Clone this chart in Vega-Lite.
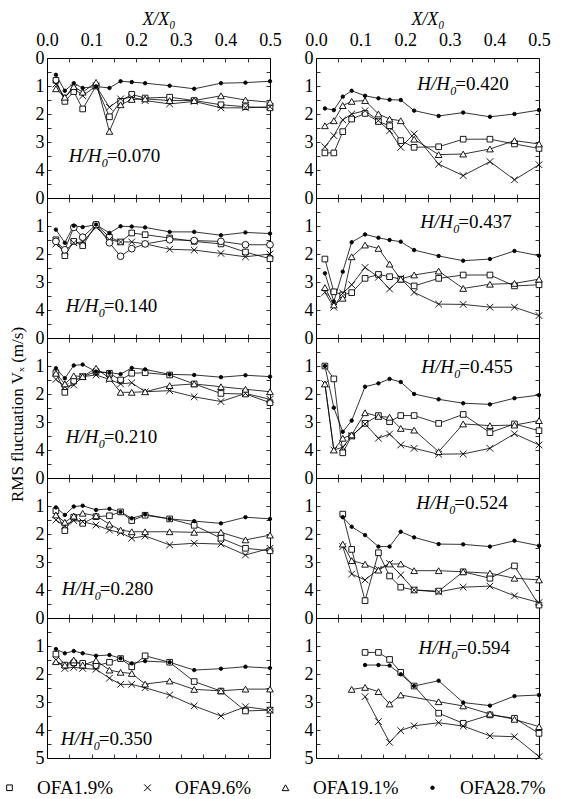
{
"$schema":"https://vega.github.io/schema/vega-lite/v6.json",
"padding":{"left":0,"top":9,"right":0,"bottom":10},
"background":"white",
"datasets":{
"ser":[{"k":"a","s":"OFA1.9%"},{"k":"b","s":"OFA9.6%"},{"k":"c","s":"OFA19.1%"},{"k":"d","s":"OFA28.7%"}],
"main":[
{"p":"070","x":0.02,"a":0.8,"b":0.93,"c":1.1,"d":0.6},
{"p":"070","x":0.04,"a":1.55,"b":1.4,"c":1.4,"d":1.17},
{"p":"070","x":0.06,"a":1.2,"b":1.07,"c":1.02,"d":0.9},
{"p":"070","x":0.08,"a":1.82,"b":1.35,"c":1.22,"d":1.07},
{"p":"070","x":0.11,"a":1.0,"b":1.0,"c":0.87,"d":1.02},
{"p":"070","x":0.14,"a":2.1,"b":1.76,"c":2.62,"d":1.07},
{"p":"070","x":0.165,"a":1.55,"b":1.46,"c":1.67,"d":0.83},
{"p":"070","x":0.19,"a":1.3,"b":1.4,"c":1.48,"d":0.86},
{"p":"070","x":0.22,"a":1.43,"b":1.52,"c":1.46,"d":0.9},
{"p":"070","x":0.275,"a":1.4,"b":1.64,"c":1.52,"d":0.99},
{"p":"070","x":0.33,"a":1.52,"b":1.55,"c":1.52,"d":1.1},
{"p":"070","x":0.39,"a":1.67,"b":1.78,"c":1.35,"d":0.9},
{"p":"070","x":0.445,"a":1.74,"b":1.78,"c":1.5,"d":0.88},
{"p":"070","x":0.5,"a":1.78,"b":1.74,"c":1.58,"d":0.83},
{"p":"140","x":0.02,"a":1.49,"b":1.64,"c":1.55,"d":1.13},
{"p":"140","x":0.04,"a":2.06,"b":1.9,"c":1.85,"d":1.6},
{"p":"140","x":0.06,"a":1.55,"b":1.6,"c":1.05,"d":0.99},
{"p":"140","x":0.08,"a":1.7,"b":1.57,"c":1.4,"d":1.04},
{"p":"140","x":0.11,"a":0.95,"b":1.04,"c":0.95,"d":0.95},
{"p":"140","x":0.14,"a":1.4,"b":1.49,"c":1.6,"d":1.25},
{"p":"140","x":0.165,"a":1.57,"b":1.57,"c":2.08,"d":1.01},
{"p":"140","x":0.19,"a":1.25,"b":1.57,"c":1.81,"d":1.02},
{"p":"140","x":0.22,"a":1.31,"b":1.64,"c":1.64,"d":1.05},
{"p":"140","x":0.275,"a":1.43,"b":1.83,"c":1.49,"d":1.21},
{"p":"140","x":0.33,"a":1.55,"b":1.86,"c":1.52,"d":1.21},
{"p":"140","x":0.39,"a":1.64,"b":1.98,"c":1.55,"d":1.33},
{"p":"140","x":0.445,"a":1.93,"b":2.1,"c":1.67,"d":1.23},
{"p":"140","x":0.5,"a":2.17,"b":2.0,"c":1.67,"d":1.27},
{"p":"210","x":0.02,"a":1.24,"b":1.48,"c":1.26,"d":1.08},
{"p":"210","x":0.04,"a":1.94,"b":1.74,"c":1.64,"d":1.44},
{"p":"210","x":0.06,"a":1.54,"b":1.68,"c":1.35,"d":0.98},
{"p":"210","x":0.08,"a":1.38,"b":1.38,"c":1.38,"d":0.95},
{"p":"210","x":0.11,"a":1.2,"b":1.32,"c":1.08,"d":1.2},
{"p":"210","x":0.14,"a":1.26,"b":1.48,"c":1.44,"d":1.24},
{"p":"210","x":0.165,"a":1.5,"b":1.64,"c":1.94,"d":1.29},
{"p":"210","x":0.19,"a":1.26,"b":1.6,"c":1.94,"d":1.07},
{"p":"210","x":0.22,"a":1.24,"b":1.92,"c":1.92,"d":1.12},
{"p":"210","x":0.275,"a":1.32,"b":1.88,"c":1.7,"d":1.3},
{"p":"210","x":0.33,"a":1.64,"b":2.1,"c":1.64,"d":1.32},
{"p":"210","x":0.39,"a":1.98,"b":2.27,"c":1.74,"d":1.4},
{"p":"210","x":0.445,"a":2.0,"b":1.98,"c":1.83,"d":1.33},
{"p":"210","x":0.5,"a":2.31,"b":2.19,"c":1.92,"d":1.38},
{"p":"280","x":0.02,"a":1.17,"b":1.5,"c":1.32,"d":1.05},
{"p":"280","x":0.04,"a":1.88,"b":1.71,"c":1.58,"d":1.32},
{"p":"280","x":0.06,"a":1.4,"b":1.52,"c":1.36,"d":1.02},
{"p":"280","x":0.08,"a":1.62,"b":1.56,"c":1.26,"d":0.99},
{"p":"280","x":0.11,"a":1.38,"b":1.68,"c":1.35,"d":1.14},
{"p":"280","x":0.14,"a":1.35,"b":1.86,"c":1.65,"d":1.1},
{"p":"280","x":0.165,"a":1.21,"b":1.95,"c":1.86,"d":1.21},
{"p":"280","x":0.19,"a":1.52,"b":2.15,"c":1.92,"d":1.44},
{"p":"280","x":0.22,"a":1.33,"b":2.07,"c":1.92,"d":1.3},
{"p":"280","x":0.275,"a":1.46,"b":2.39,"c":1.92,"d":1.46},
{"p":"280","x":0.33,"a":1.69,"b":2.33,"c":1.94,"d":1.54},
{"p":"280","x":0.39,"a":2.15,"b":2.36,"c":1.94,"d":1.62},
{"p":"280","x":0.445,"a":2.51,"b":2.75,"c":2.21,"d":1.4},
{"p":"280","x":0.5,"a":2.6,"b":2.51,"c":2.04,"d":1.46},
{"p":"350","x":0.02,"a":1.29,"b":1.5,"c":1.56,"d":1.11},
{"p":"350","x":0.04,"a":1.68,"b":1.8,"c":1.68,"d":1.26},
{"p":"350","x":0.06,"a":1.6,"b":1.76,"c":1.5,"d":1.18},
{"p":"350","x":0.08,"a":1.62,"b":1.8,"c":1.68,"d":1.26},
{"p":"350","x":0.11,"a":1.71,"b":1.83,"c":1.52,"d":1.35},
{"p":"350","x":0.14,"a":1.58,"b":2.15,"c":1.86,"d":1.32},
{"p":"350","x":0.165,"a":1.45,"b":2.37,"c":1.94,"d":1.44},
{"p":"350","x":0.19,"a":1.74,"b":2.37,"c":1.98,"d":1.62},
{"p":"350","x":0.22,"a":1.35,"b":2.49,"c":2.36,"d":1.54},
{"p":"350","x":0.275,"a":1.58,"b":2.75,"c":2.25,"d":1.58},
{"p":"350","x":0.33,"a":2.27,"b":3.14,"c":2.55,"d":1.86},
{"p":"350","x":0.39,"a":2.61,"b":3.5,"c":2.6,"d":1.81},
{"p":"350","x":0.445,"a":3.32,"b":3.17,"c":2.54,"d":1.74},
{"p":"350","x":0.5,"a":3.29,"b":3.29,"c":2.54,"d":1.79},
{"p":"420","x":0.02,"a":3.39,"b":3.17,"c":2.42,"d":1.8},
{"p":"420","x":0.04,"a":3.39,"b":2.77,"c":2.24,"d":1.86},
{"p":"420","x":0.06,"a":2.63,"b":2.21,"c":1.7,"d":1.38},
{"p":"420","x":0.08,"a":2.18,"b":2.0,"c":1.55,"d":1.17},
{"p":"420","x":0.11,"a":1.98,"b":1.88,"c":1.52,"d":1.35},
{"p":"420","x":0.14,"a":2.27,"b":2.24,"c":2.0,"d":1.44},
{"p":"420","x":0.165,"a":2.42,"b":2.6,"c":2.18,"d":1.49},
{"p":"420","x":0.19,"a":2.95,"b":3.19,"c":2.24,"d":1.5},
{"p":"420","x":0.22,"a":3.19,"b":2.71,"c":2.9,"d":1.88},
{"p":"420","x":0.275,"a":3.17,"b":3.79,"c":3.45,"d":2.07},
{"p":"420","x":0.33,"a":2.9,"b":4.2,"c":3.43,"d":1.95},
{"p":"420","x":0.39,"a":2.9,"b":3.7,"c":3.25,"d":2.1},
{"p":"420","x":0.445,"a":3.07,"b":4.35,"c":2.95,"d":2.0},
{"p":"420","x":0.5,"a":3.23,"b":3.81,"c":3.07,"d":1.86},
{"p":"437","x":0.02,"a":2.18,"b":3.37,"c":3.2,"d":2.69},
{"p":"437","x":0.04,"a":3.35,"b":3.9,"c":3.82,"d":3.7},
{"p":"437","x":0.06,"a":3.46,"b":3.4,"c":3.58,"d":2.63},
{"p":"437","x":0.08,"a":3.38,"b":3.1,"c":2.1,"d":1.58},
{"p":"437","x":0.11,"a":2.87,"b":2.48,"c":1.68,"d":1.3},
{"p":"437","x":0.14,"a":2.73,"b":2.83,"c":1.8,"d":1.42},
{"p":"437","x":0.165,"a":2.81,"b":3.25,"c":2.36,"d":1.5},
{"p":"437","x":0.19,"a":2.9,"b":2.87,"c":2.9,"d":1.56},
{"p":"437","x":0.22,"a":3.14,"b":3.37,"c":2.75,"d":1.86},
{"p":"437","x":0.275,"a":2.87,"b":3.79,"c":2.61,"d":2.07},
{"p":"437","x":0.33,"a":2.75,"b":3.8,"c":3.23,"d":2.24},
{"p":"437","x":0.39,"a":2.75,"b":3.9,"c":3.08,"d":2.18},
{"p":"437","x":0.445,"a":3.14,"b":3.9,"c":3.05,"d":1.89},
{"p":"437","x":0.5,"a":3.1,"b":4.2,"c":2.9,"d":2.06},
{"p":"455","x":0.02,"a":1.0,"b":1.64,"c":1.64,"d":1.0},
{"p":"455","x":0.04,"a":1.46,"b":4.0,"c":4.0,"d":2.49},
{"p":"455","x":0.06,"a":4.1,"b":3.9,"c":3.58,"d":3.35},
{"p":"455","x":0.08,"a":3.5,"b":3.5,"c":3.46,"d":2.95},
{"p":"455","x":0.11,"a":3.05,"b":3.07,"c":2.67,"d":1.74},
{"p":"455","x":0.14,"a":2.77,"b":3.58,"c":2.8,"d":1.62},
{"p":"455","x":0.165,"a":2.99,"b":3.43,"c":2.83,"d":1.46},
{"p":"455","x":0.19,"a":2.77,"b":3.82,"c":3.23,"d":1.57},
{"p":"455","x":0.22,"a":2.77,"b":3.94,"c":3.29,"d":2.0},
{"p":"455","x":0.275,"a":3.05,"b":4.15,"c":4.06,"d":2.19},
{"p":"455","x":0.33,"a":2.73,"b":4.14,"c":3.07,"d":2.33},
{"p":"455","x":0.39,"a":3.38,"b":3.94,"c":3.13,"d":2.37},
{"p":"455","x":0.445,"a":3.07,"b":3.42,"c":3.11,"d":2.15},
{"p":"455","x":0.5,"a":3.31,"b":3.82,"c":2.95,"d":2.04},
{"p":"524","x":0.06,"a":1.29,"b":2.45,"c":2.36,"d":1.4},
{"p":"524","x":0.08,"a":2.55,"b":3.43,"c":2.95,"d":1.74},
{"p":"524","x":0.11,"a":4.38,"b":3.64,"c":3.08,"d":2.04},
{"p":"524","x":0.14,"a":2.67,"b":3.26,"c":3.29,"d":2.45},
{"p":"524","x":0.165,"a":3.5,"b":3.05,"c":3.07,"d":2.45},
{"p":"524","x":0.19,"a":3.9,"b":3.46,"c":3.07,"d":1.92},
{"p":"524","x":0.22,"a":4.0,"b":4.0,"c":3.31,"d":2.12},
{"p":"524","x":0.275,"a":4.04,"b":4.07,"c":3.31,"d":2.36},
{"p":"524","x":0.33,"a":3.35,"b":3.9,"c":3.35,"d":2.37},
{"p":"524","x":0.39,"a":3.58,"b":3.86,"c":3.4,"d":2.45},
{"p":"524","x":0.445,"a":3.14,"b":4.21,"c":3.58,"d":2.24},
{"p":"524","x":0.5,"a":4.54,"b":4.45,"c":3.64,"d":2.42},
{"p":"594","x":0.08,"c":2.55},
{"p":"594","x":0.11,"a":1.23,"b":2.81,"c":2.48,"d":1.68},
{"p":"594","x":0.14,"a":1.23,"b":3.7,"c":2.63,"d":1.68},
{"p":"594","x":0.165,"a":1.48,"b":4.44,"c":3.07,"d":1.7},
{"p":"594","x":0.19,"a":1.94,"b":4.02,"c":2.75,"d":2.01},
{"p":"594","x":0.22,"a":2.43,"b":3.85,"d":2.43},
{"p":"594","x":0.275,"a":3.4,"b":3.74,"c":2.99,"d":2.24},
{"p":"594","x":0.33,"a":3.76,"b":3.86,"c":3.14,"d":3.02},
{"p":"594","x":0.39,"a":3.46,"b":4.21,"c":3.43,"d":3.13},
{"p":"594","x":0.445,"a":3.58,"b":4.24,"c":3.62,"d":2.79},
{"p":"594","x":0.5,"a":4.12,"b":4.95,"c":3.88,"d":2.75}
]},
"data":{"name":"main"},
"transform":[
{"fold":["a","b","c","d"],"as":["k","y"]},
{"filter":"isValid(datum.y)"},
{"lookup":"k","from":{"data":{"name":"ser"},"key":"k","fields":["s"]}}
],
"columns":2,
"spacing":{"row":0,"column":46},
"bounds":"flush",
"concat":[
{"width":223,"height":140,"transform":[{"filter":"datum.p=='070'"}],
"layer":[
{"mark":{"type":"line","color":"black","strokeWidth":0.8},"encoding":{
"x":{"field":"x","type":"quantitative","scale":{"domain":[0,0.5],"nice":false,"zero":false},"axis":{"orient":"top","values":[0,0.05,0.1,0.15,0.2,0.25,0.3,0.35,0.4,0.45,0.5],"labelExpr":"round(datum.value*100)%10==0 ? format(datum.value,'.1f') : ''","title":"X/X₀","titleFontStyle":"italic","titleFontSize":18,"titlePadding":3,"labelPadding":13}},
"y":{"field":"y","type":"quantitative","scale":{"domain":[0,5],"reverse":true,"nice":false,"zero":false},"axis":{"orient":"left","values":[0,0.5,1,1.5,2,2.5,3,3.5,4,4.5],"labelExpr":"datum.value%1==0 ? format(datum.value,'d') : ''","title":null,"labelPadding":7}},
"detail":{"field":"s","type":"nominal"}}},
{"mark":{"type":"point","filled":true,"stroke":"black","strokeWidth":0.9,"opacity":1},"encoding":{
"x":{"field":"x","type":"quantitative","axis":{"orient":"bottom","values":[0.05,0.1,0.15,0.2,0.25,0.3,0.35,0.4,0.45],"labels":false,"title":null}},
"y":{"field":"y","type":"quantitative","axis":{"orient":"right","values":[0.5,1,1.5,2,2.5,3,3.5,4,4.5],"labels":false,"title":null}},
"shape":{"field":"s","type":"nominal","scale":{"domain":["OFA1.9%","OFA9.6%","OFA19.1%","OFA28.7%"],"range":["square","M-1,-1L1,1M-1,1L1,-1","triangle-up","circle"]},
"legend":{"title":null,"orient":"none","legendX":-47,"legendY":720,"direction":"horizontal","labelFontSize":19,"labelFont":"Liberation Serif","labelColor":"black","labelOffset":18,"columnPadding":24,"padding":0,"symbolStrokeWidth":1,"symbolStrokeColor":"black","symbolOpacity":1}},
"fill":{"field":"s","type":"nominal","scale":{"domain":["OFA1.9%","OFA9.6%","OFA19.1%","OFA28.7%"],"range":["white","white","white","black"]}},
"size":{"field":"s","type":"nominal","scale":{"type":"ordinal","domain":["OFA1.9%","OFA9.6%","OFA19.1%","OFA28.7%"],"range":[32,45,45,12]}}}},
{"data":{"values":[{"t":"=0.070"}]},"encoding":{"x":{"datum":0.049,"type":"quantitative","axis":null},"y":{"datum":3.71,"type":"quantitative","axis":null}},
"layer":[
{"mark":{"type":"text","text":"H/H","fontStyle":"italic","fontSize":19,"align":"left","baseline":"alphabetic"}},
{"mark":{"type":"text","text":"0","fontStyle":"italic","fontSize":12,"align":"left","baseline":"alphabetic","dx":33,"dy":5}},
{"mark":{"type":"text","fontSize":19,"align":"left","baseline":"alphabetic","dx":38},"encoding":{"text":{"field":"t"}}}]}
],"resolve":{"axis":{"x":"independent","y":"independent"}}},

{"width":223,"height":140,"transform":[{"filter":"datum.p=='420'"}],
"layer":[
{"mark":{"type":"line","color":"black","strokeWidth":0.8},"encoding":{
"x":{"field":"x","type":"quantitative","scale":{"domain":[0,0.5],"nice":false,"zero":false},"axis":{"orient":"top","values":[0,0.05,0.1,0.15,0.2,0.25,0.3,0.35,0.4,0.45,0.5],"labelExpr":"round(datum.value*100)%10==0 ? format(datum.value,'.1f') : ''","title":"X/X₀","titleFontStyle":"italic","titleFontSize":18,"titlePadding":3,"labelPadding":13}},
"y":{"field":"y","type":"quantitative","scale":{"domain":[0,5],"reverse":true,"nice":false,"zero":false},"axis":{"orient":"left","values":[0,0.5,1,1.5,2,2.5,3,3.5,4,4.5],"labelExpr":"datum.value%1==0 ? format(datum.value,'d') : ''","title":null,"labelPadding":7}},
"detail":{"field":"s","type":"nominal"}}},
{"mark":{"type":"point","filled":true,"stroke":"black","strokeWidth":0.9,"opacity":1},"encoding":{
"x":{"field":"x","type":"quantitative","axis":{"orient":"bottom","values":[0.05,0.1,0.15,0.2,0.25,0.3,0.35,0.4,0.45],"labels":false,"title":null}},
"y":{"field":"y","type":"quantitative","axis":{"orient":"right","values":[0.5,1,1.5,2,2.5,3,3.5,4,4.5],"labels":false,"title":null}},
"shape":{"field":"s","type":"nominal","scale":{"domain":["OFA1.9%","OFA9.6%","OFA19.1%","OFA28.7%"],"range":["square","M-1,-1L1,1M-1,1L1,-1","triangle-up","circle"]}},
"fill":{"field":"s","type":"nominal","scale":{"domain":["OFA1.9%","OFA9.6%","OFA19.1%","OFA28.7%"],"range":["white","white","white","black"]}},
"size":{"field":"s","type":"nominal","scale":{"type":"ordinal","domain":["OFA1.9%","OFA9.6%","OFA19.1%","OFA28.7%"],"range":[32,45,45,12]}}}},
{"data":{"values":[{"t":"=0.420"}]},"encoding":{"x":{"datum":0.227,"type":"quantitative","axis":null},"y":{"datum":1.14,"type":"quantitative","axis":null}},
"layer":[
{"mark":{"type":"text","text":"H/H","fontStyle":"italic","fontSize":19,"align":"left","baseline":"alphabetic"}},
{"mark":{"type":"text","text":"0","fontStyle":"italic","fontSize":12,"align":"left","baseline":"alphabetic","dx":33,"dy":5}},
{"mark":{"type":"text","fontSize":19,"align":"left","baseline":"alphabetic","dx":38},"encoding":{"text":{"field":"t"}}}]}
],"resolve":{"axis":{"x":"independent","y":"independent"}}},

{"width":223,"height":140,"transform":[{"filter":"datum.p=='140'"}],
"layer":[
{"mark":{"type":"line","color":"black","strokeWidth":0.8},"encoding":{
"x":{"field":"x","type":"quantitative","scale":{"domain":[0,0.5],"nice":false,"zero":false},"axis":{"orient":"top","values":[0.05,0.1,0.15,0.2,0.25,0.3,0.35,0.4,0.45],"labels":false,"title":null}},
"y":{"field":"y","type":"quantitative","scale":{"domain":[0,5],"reverse":true,"nice":false,"zero":false},"axis":{"orient":"left","values":[0,0.5,1,1.5,2,2.5,3,3.5,4,4.5],"labelExpr":"datum.value%1==0 ? format(datum.value,'d') : ''","title":null,"labelPadding":7}},
"detail":{"field":"s","type":"nominal"}}},
{"mark":{"type":"point","filled":true,"stroke":"black","strokeWidth":0.9,"opacity":1},"encoding":{
"x":{"field":"x","type":"quantitative","axis":{"orient":"bottom","values":[0.05,0.1,0.15,0.2,0.25,0.3,0.35,0.4,0.45],"labels":false,"title":null}},
"y":{"field":"y","type":"quantitative","axis":{"orient":"right","values":[0.5,1,1.5,2,2.5,3,3.5,4,4.5],"labels":false,"title":null}},
"shape":{"condition":{"test":"datum.s==='OFA19.1%'","value":"circle"},"field":"s","type":"nominal","scale":{"domain":["OFA1.9%","OFA9.6%","OFA19.1%","OFA28.7%"],"range":["square","M-1,-1L1,1M-1,1L1,-1","triangle-up","circle"]}},
"fill":{"field":"s","type":"nominal","scale":{"domain":["OFA1.9%","OFA9.6%","OFA19.1%","OFA28.7%"],"range":["white","white","white","black"]}},
"size":{"field":"s","type":"nominal","scale":{"type":"ordinal","domain":["OFA1.9%","OFA9.6%","OFA19.1%","OFA28.7%"],"range":[32,45,45,12]}}}},
{"data":{"values":[{"t":"=0.140"}]},"encoding":{"x":{"datum":0.042,"type":"quantitative","axis":null},"y":{"datum":4.07,"type":"quantitative","axis":null}},
"layer":[
{"mark":{"type":"text","text":"H/H","fontStyle":"italic","fontSize":19,"align":"left","baseline":"alphabetic"}},
{"mark":{"type":"text","text":"0","fontStyle":"italic","fontSize":12,"align":"left","baseline":"alphabetic","dx":33,"dy":5}},
{"mark":{"type":"text","fontSize":19,"align":"left","baseline":"alphabetic","dx":38},"encoding":{"text":{"field":"t"}}}]}
],"resolve":{"axis":{"x":"independent","y":"independent"}}},

{"width":223,"height":140,"transform":[{"filter":"datum.p=='437'"}],
"layer":[
{"mark":{"type":"line","color":"black","strokeWidth":0.8},"encoding":{
"x":{"field":"x","type":"quantitative","scale":{"domain":[0,0.5],"nice":false,"zero":false},"axis":{"orient":"top","values":[0.05,0.1,0.15,0.2,0.25,0.3,0.35,0.4,0.45],"labels":false,"title":null}},
"y":{"field":"y","type":"quantitative","scale":{"domain":[0,5],"reverse":true,"nice":false,"zero":false},"axis":{"orient":"left","values":[0,0.5,1,1.5,2,2.5,3,3.5,4,4.5],"labelExpr":"datum.value%1==0 ? format(datum.value,'d') : ''","title":null,"labelPadding":7}},
"detail":{"field":"s","type":"nominal"}}},
{"mark":{"type":"point","filled":true,"stroke":"black","strokeWidth":0.9,"opacity":1},"encoding":{
"x":{"field":"x","type":"quantitative","axis":{"orient":"bottom","values":[0.05,0.1,0.15,0.2,0.25,0.3,0.35,0.4,0.45],"labels":false,"title":null}},
"y":{"field":"y","type":"quantitative","axis":{"orient":"right","values":[0.5,1,1.5,2,2.5,3,3.5,4,4.5],"labels":false,"title":null}},
"shape":{"field":"s","type":"nominal","scale":{"domain":["OFA1.9%","OFA9.6%","OFA19.1%","OFA28.7%"],"range":["square","M-1,-1L1,1M-1,1L1,-1","triangle-up","circle"]}},
"fill":{"field":"s","type":"nominal","scale":{"domain":["OFA1.9%","OFA9.6%","OFA19.1%","OFA28.7%"],"range":["white","white","white","black"]}},
"size":{"field":"s","type":"nominal","scale":{"type":"ordinal","domain":["OFA1.9%","OFA9.6%","OFA19.1%","OFA28.7%"],"range":[32,45,45,12]}}}},
{"data":{"values":[{"t":"=0.437"}]},"encoding":{"x":{"datum":0.234,"type":"quantitative","axis":null},"y":{"datum":1.07,"type":"quantitative","axis":null}},
"layer":[
{"mark":{"type":"text","text":"H/H","fontStyle":"italic","fontSize":19,"align":"left","baseline":"alphabetic"}},
{"mark":{"type":"text","text":"0","fontStyle":"italic","fontSize":12,"align":"left","baseline":"alphabetic","dx":33,"dy":5}},
{"mark":{"type":"text","fontSize":19,"align":"left","baseline":"alphabetic","dx":38},"encoding":{"text":{"field":"t"}}}]}
],"resolve":{"axis":{"x":"independent","y":"independent"}}},

{"width":223,"height":140,"transform":[{"filter":"datum.p=='210'"}],
"layer":[
{"mark":{"type":"line","color":"black","strokeWidth":0.8},"encoding":{
"x":{"field":"x","type":"quantitative","scale":{"domain":[0,0.5],"nice":false,"zero":false},"axis":{"orient":"top","values":[0.05,0.1,0.15,0.2,0.25,0.3,0.35,0.4,0.45],"labels":false,"title":null}},
"y":{"field":"y","type":"quantitative","scale":{"domain":[0,5],"reverse":true,"nice":false,"zero":false},"axis":{"orient":"left","values":[0,0.5,1,1.5,2,2.5,3,3.5,4,4.5],"labelExpr":"datum.value%1==0 ? format(datum.value,'d') : ''","title":"RMS fluctuation Vₓ (m/s)","titleFontSize":17,"titlePadding":9,"titleY":76,"labelPadding":7}},
"detail":{"field":"s","type":"nominal"}}},
{"mark":{"type":"point","filled":true,"stroke":"black","strokeWidth":0.9,"opacity":1},"encoding":{
"x":{"field":"x","type":"quantitative","axis":{"orient":"bottom","values":[0.05,0.1,0.15,0.2,0.25,0.3,0.35,0.4,0.45],"labels":false,"title":null}},
"y":{"field":"y","type":"quantitative","axis":{"orient":"right","values":[0.5,1,1.5,2,2.5,3,3.5,4,4.5],"labels":false,"title":null}},
"shape":{"field":"s","type":"nominal","scale":{"domain":["OFA1.9%","OFA9.6%","OFA19.1%","OFA28.7%"],"range":["square","M-1,-1L1,1M-1,1L1,-1","triangle-up","circle"]}},
"fill":{"field":"s","type":"nominal","scale":{"domain":["OFA1.9%","OFA9.6%","OFA19.1%","OFA28.7%"],"range":["white","white","white","black"]}},
"size":{"field":"s","type":"nominal","scale":{"type":"ordinal","domain":["OFA1.9%","OFA9.6%","OFA19.1%","OFA28.7%"],"range":[32,45,45,12]}}}},
{"data":{"values":[{"t":"=0.210"}]},"encoding":{"x":{"datum":0.042,"type":"quantitative","axis":null},"y":{"datum":3.75,"type":"quantitative","axis":null}},
"layer":[
{"mark":{"type":"text","text":"H/H","fontStyle":"italic","fontSize":19,"align":"left","baseline":"alphabetic"}},
{"mark":{"type":"text","text":"0","fontStyle":"italic","fontSize":12,"align":"left","baseline":"alphabetic","dx":33,"dy":5}},
{"mark":{"type":"text","fontSize":19,"align":"left","baseline":"alphabetic","dx":38},"encoding":{"text":{"field":"t"}}}]}
],"resolve":{"axis":{"x":"independent","y":"independent"}}},

{"width":223,"height":140,"transform":[{"filter":"datum.p=='455'"}],
"layer":[
{"mark":{"type":"line","color":"black","strokeWidth":0.8},"encoding":{
"x":{"field":"x","type":"quantitative","scale":{"domain":[0,0.5],"nice":false,"zero":false},"axis":{"orient":"top","values":[0.05,0.1,0.15,0.2,0.25,0.3,0.35,0.4,0.45],"labels":false,"title":null}},
"y":{"field":"y","type":"quantitative","scale":{"domain":[0,5],"reverse":true,"nice":false,"zero":false},"axis":{"orient":"left","values":[0,0.5,1,1.5,2,2.5,3,3.5,4,4.5],"labelExpr":"datum.value%1==0 ? format(datum.value,'d') : ''","title":null,"labelPadding":7}},
"detail":{"field":"s","type":"nominal"}}},
{"mark":{"type":"point","filled":true,"stroke":"black","strokeWidth":0.9,"opacity":1},"encoding":{
"x":{"field":"x","type":"quantitative","axis":{"orient":"bottom","values":[0.05,0.1,0.15,0.2,0.25,0.3,0.35,0.4,0.45],"labels":false,"title":null}},
"y":{"field":"y","type":"quantitative","axis":{"orient":"right","values":[0.5,1,1.5,2,2.5,3,3.5,4,4.5],"labels":false,"title":null}},
"shape":{"field":"s","type":"nominal","scale":{"domain":["OFA1.9%","OFA9.6%","OFA19.1%","OFA28.7%"],"range":["square","M-1,-1L1,1M-1,1L1,-1","triangle-up","circle"]}},
"fill":{"field":"s","type":"nominal","scale":{"domain":["OFA1.9%","OFA9.6%","OFA19.1%","OFA28.7%"],"range":["white","white","white","black"]}},
"size":{"field":"s","type":"nominal","scale":{"type":"ordinal","domain":["OFA1.9%","OFA9.6%","OFA19.1%","OFA28.7%"],"range":[32,45,45,12]}}}},
{"data":{"values":[{"t":"=0.455"}]},"encoding":{"x":{"datum":0.236,"type":"quantitative","axis":null},"y":{"datum":1.25,"type":"quantitative","axis":null}},
"layer":[
{"mark":{"type":"text","text":"H/H","fontStyle":"italic","fontSize":19,"align":"left","baseline":"alphabetic"}},
{"mark":{"type":"text","text":"0","fontStyle":"italic","fontSize":12,"align":"left","baseline":"alphabetic","dx":33,"dy":5}},
{"mark":{"type":"text","fontSize":19,"align":"left","baseline":"alphabetic","dx":38},"encoding":{"text":{"field":"t"}}}]}
],"resolve":{"axis":{"x":"independent","y":"independent"}}},

{"width":223,"height":140,"transform":[{"filter":"datum.p=='280'"}],
"layer":[
{"mark":{"type":"line","color":"black","strokeWidth":0.8},"encoding":{
"x":{"field":"x","type":"quantitative","scale":{"domain":[0,0.5],"nice":false,"zero":false},"axis":{"orient":"top","values":[0.05,0.1,0.15,0.2,0.25,0.3,0.35,0.4,0.45],"labels":false,"title":null}},
"y":{"field":"y","type":"quantitative","scale":{"domain":[0,5],"reverse":true,"nice":false,"zero":false},"axis":{"orient":"left","values":[0,0.5,1,1.5,2,2.5,3,3.5,4,4.5],"labelExpr":"datum.value%1==0 ? format(datum.value,'d') : ''","title":null,"labelPadding":7}},
"detail":{"field":"s","type":"nominal"}}},
{"mark":{"type":"point","filled":true,"stroke":"black","strokeWidth":0.9,"opacity":1},"encoding":{
"x":{"field":"x","type":"quantitative","axis":{"orient":"bottom","values":[0.05,0.1,0.15,0.2,0.25,0.3,0.35,0.4,0.45],"labels":false,"title":null}},
"y":{"field":"y","type":"quantitative","axis":{"orient":"right","values":[0.5,1,1.5,2,2.5,3,3.5,4,4.5],"labels":false,"title":null}},
"shape":{"field":"s","type":"nominal","scale":{"domain":["OFA1.9%","OFA9.6%","OFA19.1%","OFA28.7%"],"range":["square","M-1,-1L1,1M-1,1L1,-1","triangle-up","circle"]}},
"fill":{"field":"s","type":"nominal","scale":{"domain":["OFA1.9%","OFA9.6%","OFA19.1%","OFA28.7%"],"range":["white","white","white","black"]}},
"size":{"field":"s","type":"nominal","scale":{"type":"ordinal","domain":["OFA1.9%","OFA9.6%","OFA19.1%","OFA28.7%"],"range":[32,45,45,12]}}}},
{"data":{"values":[{"t":"=0.280"}]},"encoding":{"x":{"datum":0.033,"type":"quantitative","axis":null},"y":{"datum":4.18,"type":"quantitative","axis":null}},
"layer":[
{"mark":{"type":"text","text":"H/H","fontStyle":"italic","fontSize":19,"align":"left","baseline":"alphabetic"}},
{"mark":{"type":"text","text":"0","fontStyle":"italic","fontSize":12,"align":"left","baseline":"alphabetic","dx":33,"dy":5}},
{"mark":{"type":"text","fontSize":19,"align":"left","baseline":"alphabetic","dx":38},"encoding":{"text":{"field":"t"}}}]}
],"resolve":{"axis":{"x":"independent","y":"independent"}}},

{"width":223,"height":140,"transform":[{"filter":"datum.p=='524'"}],
"layer":[
{"mark":{"type":"line","color":"black","strokeWidth":0.8},"encoding":{
"x":{"field":"x","type":"quantitative","scale":{"domain":[0,0.5],"nice":false,"zero":false},"axis":{"orient":"top","values":[0.05,0.1,0.15,0.2,0.25,0.3,0.35,0.4,0.45],"labels":false,"title":null}},
"y":{"field":"y","type":"quantitative","scale":{"domain":[0,5],"reverse":true,"nice":false,"zero":false},"axis":{"orient":"left","values":[0,0.5,1,1.5,2,2.5,3,3.5,4,4.5],"labelExpr":"datum.value%1==0 ? format(datum.value,'d') : ''","title":null,"labelPadding":7}},
"detail":{"field":"s","type":"nominal"}}},
{"mark":{"type":"point","filled":true,"stroke":"black","strokeWidth":0.9,"opacity":1},"encoding":{
"x":{"field":"x","type":"quantitative","axis":{"orient":"bottom","values":[0.05,0.1,0.15,0.2,0.25,0.3,0.35,0.4,0.45],"labels":false,"title":null}},
"y":{"field":"y","type":"quantitative","axis":{"orient":"right","values":[0.5,1,1.5,2,2.5,3,3.5,4,4.5],"labels":false,"title":null}},
"shape":{"field":"s","type":"nominal","scale":{"domain":["OFA1.9%","OFA9.6%","OFA19.1%","OFA28.7%"],"range":["square","M-1,-1L1,1M-1,1L1,-1","triangle-up","circle"]}},
"fill":{"field":"s","type":"nominal","scale":{"domain":["OFA1.9%","OFA9.6%","OFA19.1%","OFA28.7%"],"range":["white","white","white","black"]}},
"size":{"field":"s","type":"nominal","scale":{"type":"ordinal","domain":["OFA1.9%","OFA9.6%","OFA19.1%","OFA28.7%"],"range":[32,45,45,12]}}}},
{"data":{"values":[{"t":"=0.524"}]},"encoding":{"x":{"datum":0.225,"type":"quantitative","axis":null},"y":{"datum":1.1,"type":"quantitative","axis":null}},
"layer":[
{"mark":{"type":"text","text":"H/H","fontStyle":"italic","fontSize":19,"align":"left","baseline":"alphabetic"}},
{"mark":{"type":"text","text":"0","fontStyle":"italic","fontSize":12,"align":"left","baseline":"alphabetic","dx":33,"dy":5}},
{"mark":{"type":"text","fontSize":19,"align":"left","baseline":"alphabetic","dx":38},"encoding":{"text":{"field":"t"}}}]}
],"resolve":{"axis":{"x":"independent","y":"independent"}}},

{"width":223,"height":140,"transform":[{"filter":"datum.p=='350'"}],
"layer":[
{"mark":{"type":"line","color":"black","strokeWidth":0.8},"encoding":{
"x":{"field":"x","type":"quantitative","scale":{"domain":[0,0.5],"nice":false,"zero":false},"axis":{"orient":"top","values":[0.05,0.1,0.15,0.2,0.25,0.3,0.35,0.4,0.45],"labels":false,"title":null}},
"y":{"field":"y","type":"quantitative","scale":{"domain":[0,5],"reverse":true,"nice":false,"zero":false},"axis":{"orient":"left","values":[0,0.5,1,1.5,2,2.5,3,3.5,4,4.5,5],"labelExpr":"datum.value%1==0 ? format(datum.value,'d') : ''","title":null,"labelPadding":7}},
"detail":{"field":"s","type":"nominal"}}},
{"mark":{"type":"point","filled":true,"stroke":"black","strokeWidth":0.9,"opacity":1},"encoding":{
"x":{"field":"x","type":"quantitative","axis":{"orient":"bottom","values":[0.05,0.1,0.15,0.2,0.25,0.3,0.35,0.4,0.45],"labels":false,"title":null}},
"y":{"field":"y","type":"quantitative","axis":{"orient":"right","values":[0.5,1,1.5,2,2.5,3,3.5,4,4.5],"labels":false,"title":null}},
"shape":{"field":"s","type":"nominal","scale":{"domain":["OFA1.9%","OFA9.6%","OFA19.1%","OFA28.7%"],"range":["square","M-1,-1L1,1M-1,1L1,-1","triangle-up","circle"]}},
"fill":{"field":"s","type":"nominal","scale":{"domain":["OFA1.9%","OFA9.6%","OFA19.1%","OFA28.7%"],"range":["white","white","white","black"]}},
"size":{"field":"s","type":"nominal","scale":{"type":"ordinal","domain":["OFA1.9%","OFA9.6%","OFA19.1%","OFA28.7%"],"range":[32,45,45,12]}}}},
{"data":{"values":[{"t":"=0.350"}]},"encoding":{"x":{"datum":0.031,"type":"quantitative","axis":null},"y":{"datum":4.53,"type":"quantitative","axis":null}},
"layer":[
{"mark":{"type":"text","text":"H/H","fontStyle":"italic","fontSize":19,"align":"left","baseline":"alphabetic"}},
{"mark":{"type":"text","text":"0","fontStyle":"italic","fontSize":12,"align":"left","baseline":"alphabetic","dx":33,"dy":5}},
{"mark":{"type":"text","fontSize":19,"align":"left","baseline":"alphabetic","dx":38},"encoding":{"text":{"field":"t"}}}]}
],"resolve":{"axis":{"x":"independent","y":"independent"}}},

{"width":223,"height":140,"transform":[{"filter":"datum.p=='594'"}],
"layer":[
{"mark":{"type":"line","color":"black","strokeWidth":0.8},"encoding":{
"x":{"field":"x","type":"quantitative","scale":{"domain":[0,0.5],"nice":false,"zero":false},"axis":{"orient":"top","values":[0.05,0.1,0.15,0.2,0.25,0.3,0.35,0.4,0.45],"labels":false,"title":null}},
"y":{"field":"y","type":"quantitative","scale":{"domain":[0,5],"reverse":true,"nice":false,"zero":false},"axis":{"orient":"left","values":[0,0.5,1,1.5,2,2.5,3,3.5,4,4.5,5],"labelExpr":"datum.value%1==0 ? format(datum.value,'d') : ''","title":null,"labelPadding":7}},
"detail":{"field":"s","type":"nominal"}}},
{"mark":{"type":"point","filled":true,"stroke":"black","strokeWidth":0.9,"opacity":1},"encoding":{
"x":{"field":"x","type":"quantitative","axis":{"orient":"bottom","values":[0.05,0.1,0.15,0.2,0.25,0.3,0.35,0.4,0.45],"labels":false,"title":null}},
"y":{"field":"y","type":"quantitative","axis":{"orient":"right","values":[0.5,1,1.5,2,2.5,3,3.5,4,4.5],"labels":false,"title":null}},
"shape":{"field":"s","type":"nominal","scale":{"domain":["OFA1.9%","OFA9.6%","OFA19.1%","OFA28.7%"],"range":["square","M-1,-1L1,1M-1,1L1,-1","triangle-up","circle"]}},
"fill":{"field":"s","type":"nominal","scale":{"domain":["OFA1.9%","OFA9.6%","OFA19.1%","OFA28.7%"],"range":["white","white","white","black"]}},
"size":{"field":"s","type":"nominal","scale":{"type":"ordinal","domain":["OFA1.9%","OFA9.6%","OFA19.1%","OFA28.7%"],"range":[32,45,45,12]}}}},
{"data":{"values":[{"t":"=0.594"}]},"encoding":{"x":{"datum":0.23,"type":"quantitative","axis":null},"y":{"datum":1.29,"type":"quantitative","axis":null}},
"layer":[
{"mark":{"type":"text","text":"H/H","fontStyle":"italic","fontSize":19,"align":"left","baseline":"alphabetic"}},
{"mark":{"type":"text","text":"0","fontStyle":"italic","fontSize":12,"align":"left","baseline":"alphabetic","dx":33,"dy":5}},
{"mark":{"type":"text","fontSize":19,"align":"left","baseline":"alphabetic","dx":38},"encoding":{"text":{"field":"t"}}}]}
],"resolve":{"axis":{"x":"independent","y":"independent"}}}
],
"config":{
"font":"Liberation Serif",
"view":{"stroke":"black","strokeWidth":1},
"axis":{"domain":false,"grid":false,"tickColor":"black","tickWidth":0.8,"tickSize":-4,"labelFont":"Liberation Serif","labelFontSize":18,"labelColor":"black","labelFlush":false,"labelOverlap":false,"labelBound":false,"titleFont":"Liberation Serif","titleFontWeight":"normal","titleColor":"black"},
"text":{"font":"Liberation Serif","color":"black"}
}
}
